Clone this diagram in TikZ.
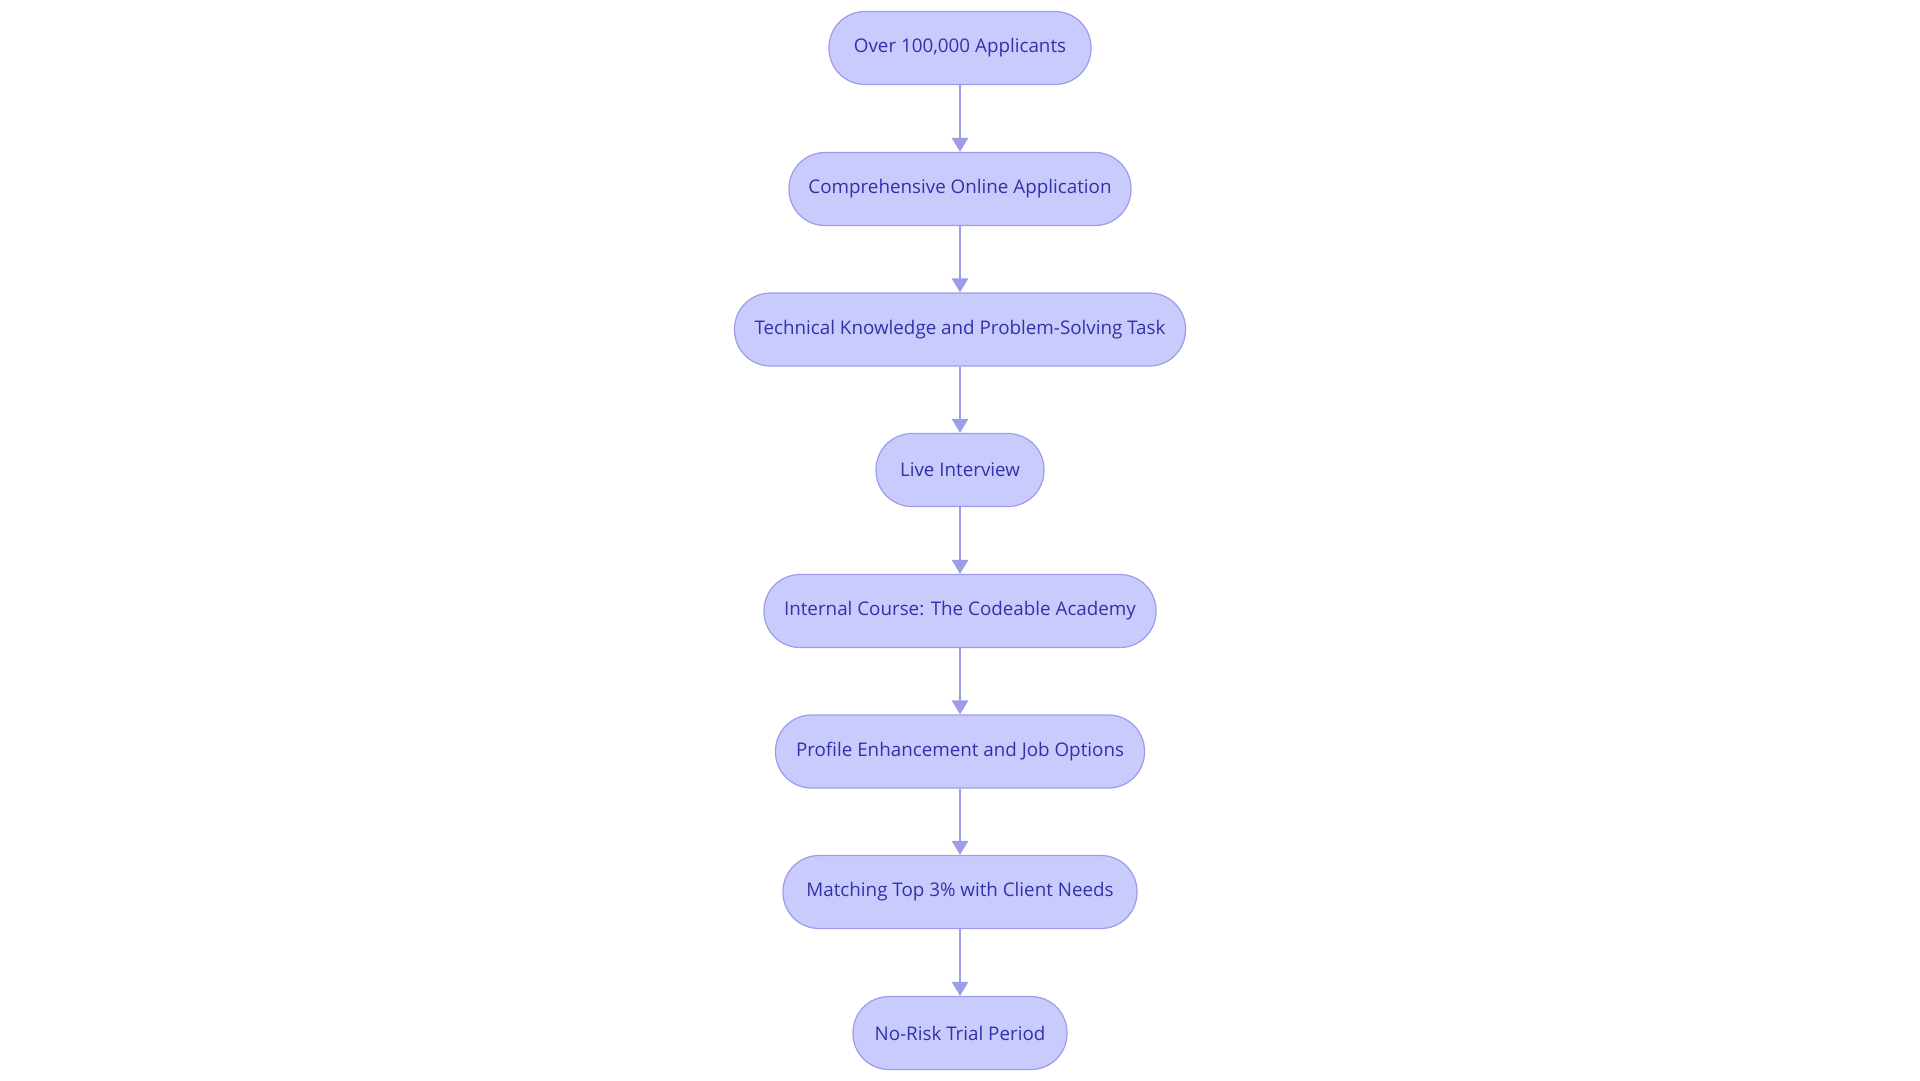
\documentclass[tikz,border=0pt]{standalone}
\usepackage{fontspec}
\setmainfont{Open Sans}
\usetikzlibrary{arrows.meta}
\definecolor{nfill}{HTML}{CACBFD}
\definecolor{nline}{HTML}{9C9CE8}
\definecolor{ntext}{HTML}{3232A8}
\begin{document}
\begin{tikzpicture}[x=1pt,y=-1pt,
  stage/.style={draw=nline,line width=1.2pt,fill=nfill,rounded corners=36pt,minimum height=73pt,inner sep=0pt,text=ntext,font=\fontsize{18.8}{21}\selectfont},
  link/.style={draw=nline,line width=2.6pt,-{Triangle[length=14pt,width=16pt]}}]
\useasboundingbox[fill=white] (0,0) rectangle (1920,1080);
\node[stage,minimum width=262pt] (n1) at (960,48) {Over 100,000 Applicants};
\node[stage,minimum width=342pt] (n2) at (960,189) {Comprehensive Online Application};
\node[stage,minimum width=451pt] (n3) at (960,329.5) {Technical Knowledge and Problem-Solving Task};
\node[stage,minimum width=168pt] (n4) at (960,470) {Live Interview};
\node[stage,minimum width=392pt] (n5) at (960,611) {Internal Course: The Codeable Academy};
\node[stage,minimum width=369pt] (n6) at (960,751.5) {Profile Enhancement and Job Options};
\node[stage,minimum width=354pt] (n7) at (960,892) {Matching Top 3\% with Client Needs};
\node[stage,minimum width=214pt] (n8) at (960,1033) {No-Risk Trial Period};
\foreach \a/\b in {n1/n2,n2/n3,n3/n4,n4/n5,n5/n6,n6/n7,n7/n8}
  \draw[link] (\a) -- (\b);
\end{tikzpicture}
\end{document}
